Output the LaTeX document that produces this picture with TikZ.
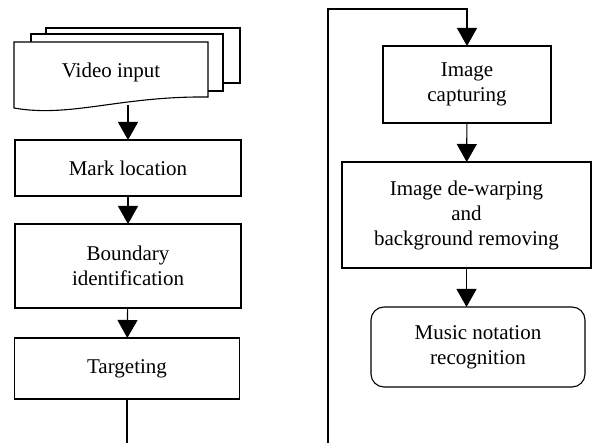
\documentclass[tikz,border=0pt]{standalone}
\usepackage{fontspec}
\setmainfont{Liberation Serif}
\usetikzlibrary{arrows.meta}

\begin{document}
\begin{tikzpicture}[
  x = 1pt, y = -1pt,
  block/.style = {
    draw,
    shape = rectangle,
    align = center,
    inner sep = 0pt,
    outer sep = 0pt,
    font = \fontsize{21}{25}\selectfont
  },
  flow/.style = {
    -{Triangle[width = 20pt, length = 18pt]}
  },
  every path/.style = {
    line width = 1.1pt
  }
]
  \useasboundingbox (0, 0) rectangle (592, 443);

  % stacked sheets of the video source
  \draw (46, 34) |- (240, 28) |- (223, 83);
  \draw (31, 42) |- (223, 34) |- (208, 91);
  \draw[fill = white] (14, 42) -- (208, 42) -- (208, 97)
    .. controls (120, 96) and (70, 118) .. (14, 108) -- cycle;
  \node[font = \fontsize{21}{25}\selectfont] (vid) at (111, 72) {Video input};
  \coordinate (vidout) at (128, 105);

  % left column
  \node[block, minimum width = 226pt, minimum height = 56pt] (mark) at (128, 168) {Mark location};
  \node[block, minimum width = 226pt, minimum height = 84pt] (bound) at (128, 266) {Boundary\\identification};
  \node[block, minimum width = 225pt, minimum height = 61pt] (target) at (127, 368.5) {Targeting};
  \coordinate (leftend) at (127, 443);

  \draw[flow] (vidout) -- (mark.north);
  \draw[flow] (mark) -- (bound);
  \draw[flow] (bound) -- (target);
  \draw (target.south) -- (leftend);

  % right column
  \coordinate (loopbot) at (328, 443);
  \coordinate (looptop) at (328, 9);
  \node[block, minimum width = 168pt, minimum height = 77pt] (capture) at (467, 84.5) {Image\\capturing};
  \node[block, minimum width = 249pt, minimum height = 106pt] (dewarp) at (466.5, 215) {Image de-warping\\and\\background removing};
  \node[block, rounded corners = 13pt, minimum width = 214pt, minimum height = 80pt] (music) at (478, 347) {Music notation\\recognition};

  \draw[flow] (loopbot) -- (looptop) -| (capture.north);
  \draw[flow] (capture) -- (dewarp);
  \draw[flow] (dewarp.south) -- (dewarp.south |- music.north);
\end{tikzpicture}
\end{document}
